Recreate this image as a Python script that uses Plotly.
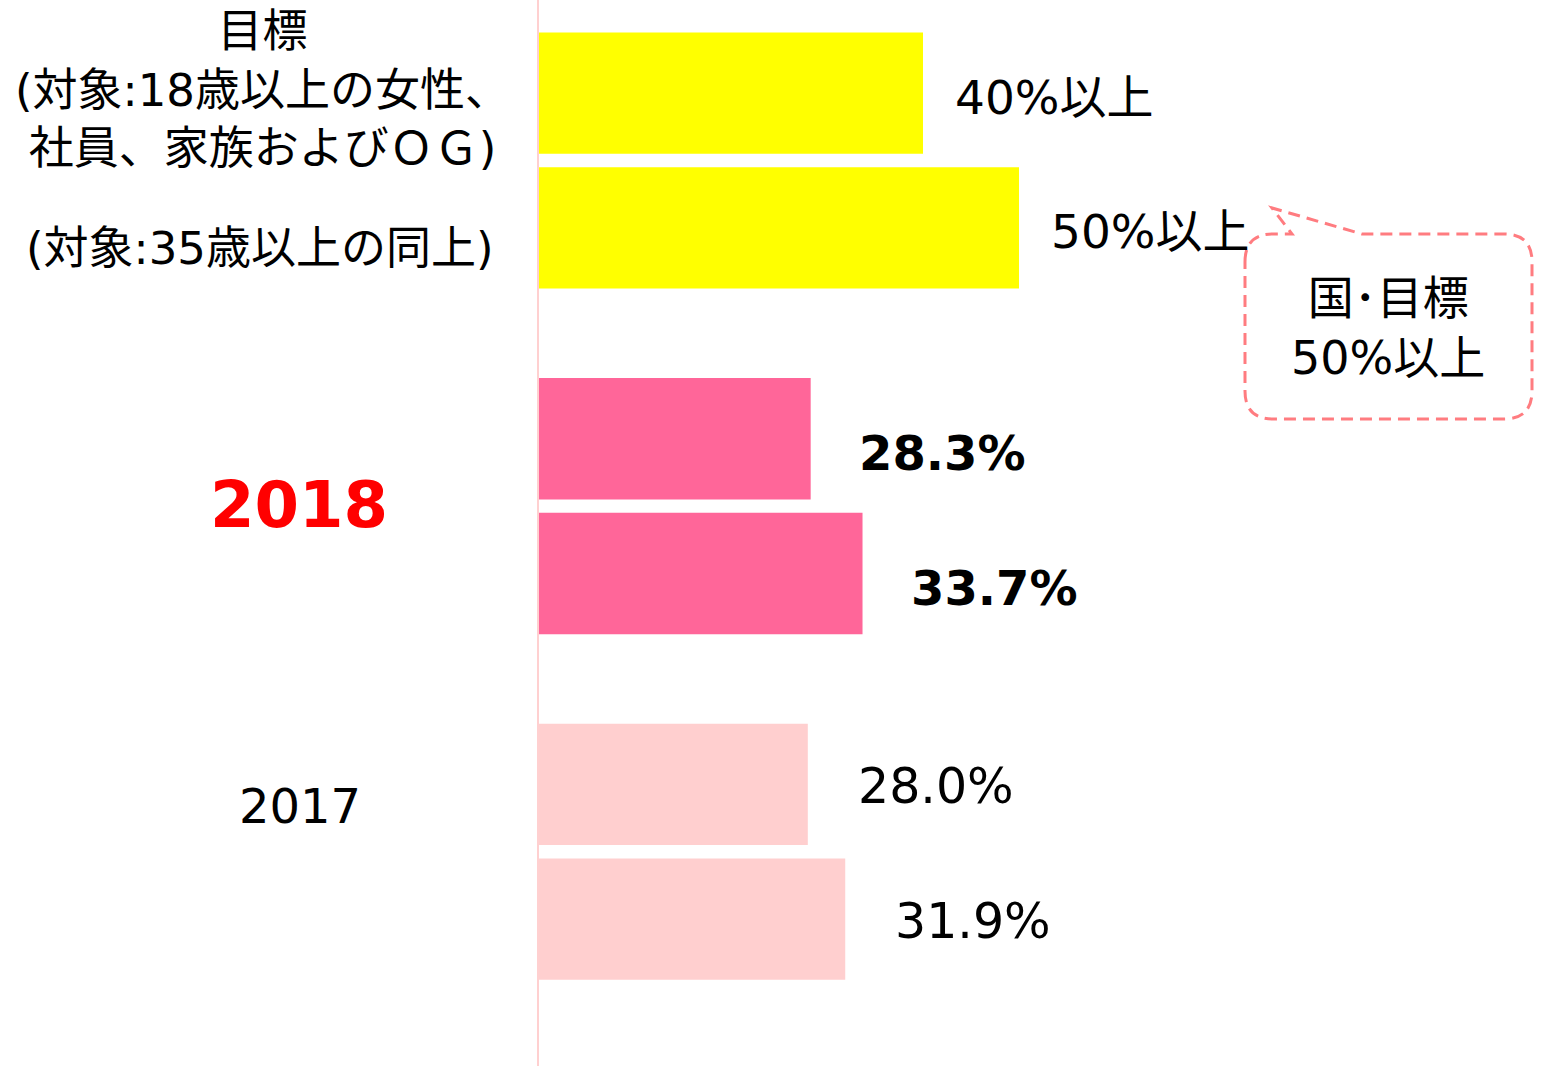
import plotly.graph_objects as go

# ---- data ----
categories = ["目標", "2018", "2017"]
series_18plus = [40.0, 28.3, 28.0]     # 対象:18歳以上の女性、社員、家族およびＯＧ
series_35plus = [50.0, 33.7, 31.9]     # 対象:35歳以上の同上
colors_by_category = ["#FFFF00", "#FF6699", "#FFCFCF"]
value_labels_18 = ["40%以上", "<b>28.3%</b>", "28.0%"]
value_labels_35 = ["50%以上", "<b>33.7%</b>", "31.9%"]

FONT = "DejaVu Sans, Noto Sans CJK JP, sans-serif"
W, H = 1541, 1066
L = 539
PW = W - L


def px(x):
    return (x - L) / PW


def py(y):
    return 1 - y / H


fig = go.Figure()
fig.add_trace(go.Bar(y=categories, x=series_18plus, orientation="h",
                     marker=dict(color=colors_by_category, line=dict(width=0)),
                     hoverinfo="skip"))
fig.add_trace(go.Bar(y=categories, x=series_35plus, orientation="h",
                     marker=dict(color=colors_by_category, line=dict(width=0)),
                     hoverinfo="skip"))

BARGAP = 0.22
slot = (1 - BARGAP) / 2
label_gap = [30, 46, 48]
label_size = [47, 48, 49]
label_yshift = [-4, -14, -2]
annotations = []
for i, cat in enumerate(categories):
    for val, lab, off in ((series_18plus[i], value_labels_18[i], -slot / 2),
                          (series_35plus[i], value_labels_35[i], slot / 2)):
        annotations.append(dict(x=val, y=i + off, xref="x", yref="y", text=lab,
                                showarrow=False, xanchor="left", yanchor="middle",
                                xshift=label_gap[i], yshift=label_yshift[i],
                                font=dict(family=FONT, size=label_size[i], color="black")))

# left-side category labels
annotations += [
    dict(x=px(262), y=py(90), xref="paper", yref="paper",
         text="目標<br>(対象:18歳以上の女性、<br>社員、家族およびＯＧ)",
         showarrow=False, xanchor="center", yanchor="middle", align="center",
         font=dict(family=FONT, size=45, color="black")),
    dict(x=px(260), y=py(248), xref="paper", yref="paper",
         text="(対象:35歳以上の同上)",
         showarrow=False, xanchor="center", yanchor="middle",
         font=dict(family=FONT, size=45, color="black")),
    dict(x=px(299), y=py(505), xref="paper", yref="paper",
         text="<b>2018</b>", showarrow=False, xanchor="center", yanchor="middle",
         font=dict(family=FONT, size=64, color="#FF0000")),
    dict(x=px(300), y=py(806), xref="paper", yref="paper",
         text="2017", showarrow=False, xanchor="center", yanchor="middle",
         font=dict(family=FONT, size=48, color="black")),
    dict(x=px(1388), y=py(328), xref="paper", yref="paper",
         text="国･目標<br>50%以上", showarrow=False, xanchor="center", yanchor="middle",
         align="center", font=dict(family=FONT, size=46, color="black")),
]

# callout bubble
Lb, Rb, Tb, Bb, r = 1245, 1532, 234, 419, 28
pts = [
    ("M", (Lb, Tb + r)),
    ("Q", (Lb, Tb), (Lb + r, Tb)),
    ("L", (1292, Tb)),
    ("L", (1272, 208)),
    ("L", (1362, Tb)),
    ("L", (Rb - r, Tb)),
    ("Q", (Rb, Tb), (Rb, Tb + r)),
    ("L", (Rb, Bb - r)),
    ("Q", (Rb, Bb), (Rb - r, Bb)),
    ("L", (Lb + r, Bb)),
    ("Q", (Lb, Bb), (Lb, Bb - r)),
]
path = ""
for cmd, *ps in pts:
    path += cmd + " " + " ".join(f"{px(a):.5f},{py(b):.5f}" for a, b in ps) + " "
path += "Z"

fig.update_layout(
    width=W, height=H,
    barmode="group", bargap=BARGAP, bargroupgap=0.10,
    showlegend=False,
    plot_bgcolor="white", paper_bgcolor="white",
    margin=dict(l=L, r=0, t=0, b=0),
    xaxis=dict(range=[0, PW / 9.6], showticklabels=False, showgrid=False,
               zeroline=False, showline=False),
    yaxis=dict(range=[2.62, -0.4645], showticklabels=False, showgrid=False,
               zeroline=False, showline=True, linecolor="#FFD0D0", linewidth=2,
               ticks=""),
    annotations=annotations,
    shapes=[dict(type="path", path=path, xref="paper", yref="paper",
                 line=dict(color="#FF7C80", width=3, dash="12px,7px"),
                 fillcolor="rgba(0,0,0,0)")],
)

fig.write_html("out.html",
               config={"displayModeBar": False},
               post_script="document.body.style.margin='0';document.body.style.overflow='hidden';")
